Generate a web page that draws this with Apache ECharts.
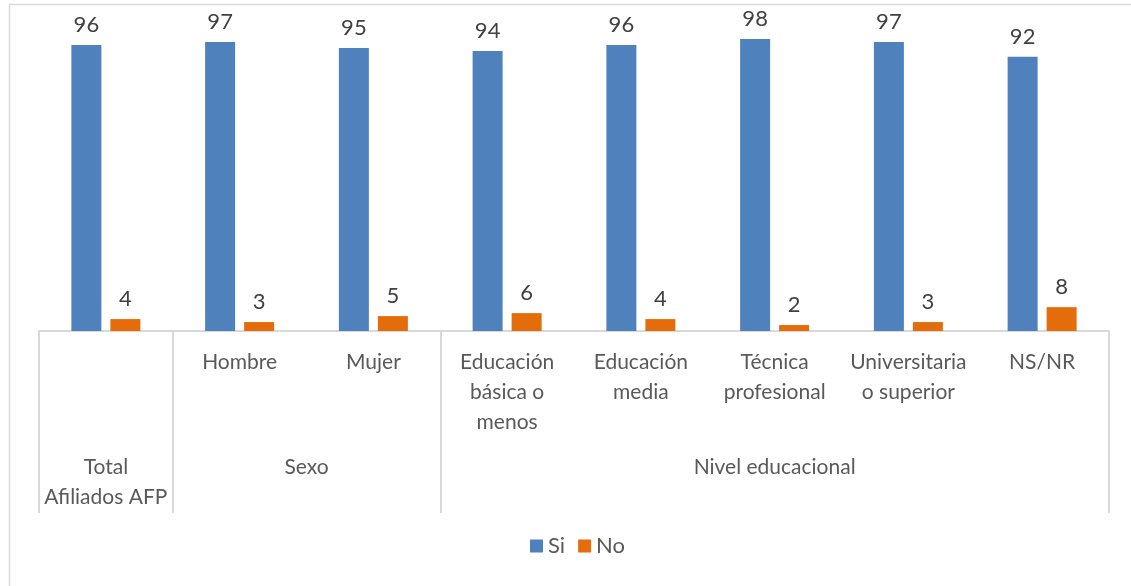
<!DOCTYPE html>
<html>
<head>
<meta charset="utf-8">
<script src="https://cdn.jsdelivr.net/npm/echarts@6/dist/echarts.min.js"></script>
<style>html,body{margin:0;padding:0;background:#fff;}#c{width:1131px;height:586px;}</style>
</head>
<body>
<div id="c"></div>
<script>
const categories = ['', 'Hombre', 'Mujer', 'Educación\nbásica o\nmenos', 'Educación\nmedia', 'Técnica\nprofesional', 'Universitaria\no superior', 'NS/NR'];
const groupLabels = ['Total\nAfiliados AFP', 'Sexo', 'Nivel educacional'];
const groupSizes = [1, 2, 5];
const siValues = [96, 97, 95, 94, 96, 98, 97, 92];
const noValues = [4, 3, 5, 6, 4, 2, 3, 8];
const seriesNames = ['Si', 'No'];

const FONT = 'Lato';
const boundaries = [0];
const centers = [];
groupSizes.forEach(s => { const b = boundaries[boundaries.length - 1]; centers.push(b + s / 2); boundaries.push(b + s); });

const chart = echarts.init(document.getElementById('c'), null, {renderer: 'canvas'});
const labelStyle = {show: true, position: 'top', distance: 9, color: '#404040', fontSize: 22, fontFamily: FONT};
chart.setOption({
  animation: false,
  textStyle: {fontFamily: FONT},
  graphic: [{type: 'rect', shape: {x: 9.5, y: 4.5, width: 1300, height: 700}, style: {fill: 'none', stroke: '#D9D9D9', lineWidth: 1.5}, silent: true, z: -10}],
  grid: {left: 39, right: 22, top: 33, bottom: 255, containLabel: false},
  legend: {
    data: seriesNames, bottom: 24, left: 525, itemWidth: 13, itemHeight: 13, itemGap: 13,
    icon: 'rect', textStyle: {color: '#595959', fontSize: 22, fontFamily: FONT}
  },
  xAxis: [
    {
      type: 'category', data: categories, boundaryGap: true,
      axisLine: {show: true, lineStyle: {color: '#D9D9D9', width: 2}},
      axisTick: {show: false},
      axisLabel: {interval: 0, margin: 16, color: '#595959', fontSize: 21, lineHeight: 30, fontFamily: FONT}
    },
    {
      type: 'value', min: 0, max: categories.length, position: 'bottom',
      splitLine: {show: false},
      axisLine: {show: false},
      axisTick: {show: true, customValues: boundaries, length: 182, lineStyle: {color: '#D9D9D9', width: 2}},
      axisLabel: {
        show: true, customValues: centers, margin: 121, color: '#595959', fontSize: 21, lineHeight: 30, fontFamily: FONT,
        formatter: v => { const i = centers.indexOf(v); return i >= 0 ? groupLabels[i] : ''; }
      }
    }
  ],
  yAxis: {type: 'value', min: 0, max: 100, show: false, splitLine: {show: false}},
  series: [
    {name: seriesNames[0], type: 'bar', data: siValues, barWidth: 30, barGap: '30%', xAxisIndex: 0,
      itemStyle: {color: '#4F81BD'}, label: labelStyle},
    {name: seriesNames[1], type: 'bar', data: noValues, barWidth: 30, barGap: '30%', xAxisIndex: 0,
      itemStyle: {color: '#E46C0A'}, label: labelStyle}
  ]
});
</script>
</body>
</html>
